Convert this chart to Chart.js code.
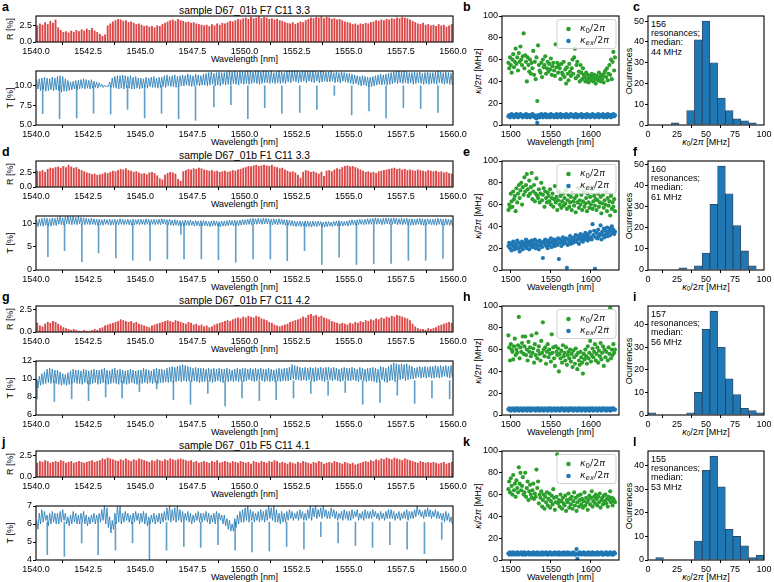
<!DOCTYPE html>
<html>
<head>
<meta charset="utf-8">
<script src="https://cdn.jsdelivr.net/npm/chart.js@4.4.1/dist/chart.umd.min.js"></script>
<style>
body { margin: 0; background: #fff; width: 774px; height: 582px; overflow: hidden; position: relative; font-family: "Liberation Sans", Arial, sans-serif; }
canvas { position: absolute; }
.t { position: absolute; white-space: nowrap; color: #000; line-height: 1; }
.t sub { font-size: 70%; vertical-align: -0.3em; line-height: 0; }
</style>
</head>
<body>
<script>
// ---- données ----
const nums = s => s.trim().split(/\s+/).map(Number);

const titles = ['sample D67_01b F7 C11 3.3', 'sample D67_01b F1 C11 3.3', 'sample D67_01b F7 C11 4.2', 'sample D67_01b F5 C11 4.1'];
const letters = [['a', 'b', 'c'], ['d', 'e', 'f'], ['g', 'h', 'i'], ['j', 'k', 'l']];

// spectres : longueurs d'onde (nm), pas de la grille
const wlTicks = [1540, 1542.5, 1545, 1547.5, 1550, 1552.5, 1555, 1557.5, 1560];
const rStart = 1540.0625, rStep = 0.125;    // une barre R par frange
const tStart = 1540.03125, tStep = 0.0625;  // échantillons T (max / min de frange)

// R [%] en dixièmes de %
const rA = nums(`25 28 26 30 27 32 29 34  22 18 15 16 14 17 15 18  16 19 17 20 18 21 17 15  12 9 11 25 28 31 33 35
 34 32 33 30 31 29 27 28  26 24 25 23 24 22 25 24  27 29 31 33 34 32 35 33  32 30 31 29 30 28 27 26
 25 26 24 27 25 28 26 29  28 30 32 31 33 35 34 36  37 35 38 36 37 39 36 38  37 35 36 34 35 33 32 30
 29 28 30 27 29 31 30 33  35 37 36 38 37 39 36 38  37 35 36 34 35 33 31 30  29 27 28 26 28 27 29 28
 30 31 33 32 34 33 35 34  36 35 37 36 38 37 36 34  32 30 28 27 29 26 27 25  26 24 27 25 26 23 25 27`);
const rD = nums(`27 26 28 25 30 32 31 33  34 32 35 33 37 34 32 33  30 28 26 24 23 21 22 20  21 22 24 23 25 27 26 28
 30 29 31 28 27 25 26 24  22 23 21 24 25 23 19 14  12 20 23 25 24 22 13 10  26 28 30 29 31 30 32 31
 29 28 27 28 26 27 25 26  27 25 26 28 27 29 30 32  33 35 34 36 37 35 36 37  36 35 37 34 33 31 32 29
 27 25 26 24 20 15 25 28  27 25 26 24 22 25 18 27  28 26 29 31 30 33 35 36  34 35 33 31 29 27 25 26
 24 25 23 26 27 28 29 30  31 32 30 31 29 30 28 29  28 27 29 28 27 26 28 27  26 27 25 26 24 25 23 22`);
const rG = nums(`10 7 6 9 11 10 12 11  9 7 5 4 3 2 3 2  1 1 2 1 1 2 3 2  4 5 7 8 9 10 11 12
 14 13 12 11 12 10 11 9  8 7 6 5 7 8 9 10  11 12 13 12 11 13 12 11  10 9 11 10 8 9 7 8
 6 7 5 6 8 9 10 11  12 13 12 14 15 16 15 17  16 18 17 16 18 17 15 14  13 11 10 8 7 6 7 8
 9 11 12 13 14 15 17 16  19 20 18 19 17 18 16 15  14 12 11 10 9 10 9 8  10 9 11 10 12 11 13 12
 14 13 15 14 16 15 17 16  18 17 19 18 17 16 15 13  9 6 4 3 3 2 4 3  4 5 7 8 9 10 11 10`);
const rJ = nums(`16 18 17 19 18 16 17 18  17 19 18 16 17 18 16 17  18 17 16 17 18 19 17 18  19 21 20 22 21 20 19 18
 20 19 21 19 18 20 19 21  20 19 18 17 19 18 20 19  18 20 19 21 20 19 20 21  20 19 18 19 17 18 16 17
 18 17 16 18 17 19 16 17  18 17 16 18 17 16 18 17  16 17 15 18 17 16 18 17  16 18 17 19 18 16 17 16
 15 17 16 15 17 16 18 17  16 15 17 16 18 17 15 16  17 16 18 17 16 15 17 16  15 16 14 15 16 17 18 17
 19 18 20 19 21 20 22 21  20 22 21 20 19 21 20 19  18 17 16 18 17 16 17 16  17 16 15 16 17 15 16 17`);
const rMax = [4.0, 4.4, 2.95, 3.0];

// T [%] en dixièmes de %, 16 valeurs par nm
const tA = nums(`
108 96 109 94 110 95 111 93 110 94 109 95 111 94 110 95
112 94 113 92 112 93 109 93 107 94 105 95 106 96 107 95
107 96 108 97 109 96 108 97 107 96 108 97 106 98 105 97
104 99 102 98 101 99 100 99 105 98 110 98 112 97 113 96
113 97 114 96 113 98 112 97 113 96 111 96 112 97 110 96
110 97 109 98 111 97 110 99 111 98 112 98 110 97 111 98
111 99 113 98 114 100 112 99 113 99 114 98 112 99 113 100
114 100 113 101 115 100 114 99 113 100 115 101 114 100 113 101
115 101 116 100 117 101 118 102 116 100 117 101 118 100 117 102
117 101 118 102 119 101 118 103 119 102 118 101 119 103 118 102
119 103 119 102 119 103 118 104 119 103 119 102 118 103 119 104
119 104 118 103 119 104 117 103 118 104 119 103 118 104 117 103
119 105 119 104 119 106 119 105 119 104 118 105 119 106 119 104
119 106 119 105 119 104 119 106 118 104 119 105 119 106 118 105
118 105 119 106 117 104 118 105 117 104 118 106 117 105 116 104
116 103 115 102 114 103 113 101 112 100 113 101 112 100 111 99
111 99 112 100 113 101 114 102 115 101 114 102 115 101 116 102
117 103 118 104 119 103 119 104 118 103 119 104 118 103 117 104
117 102 118 103 117 104 118 103 116 102 117 103 118 102 117 103
117 103 118 102 119 104 118 103 117 102 118 103 117 102 116 101`);
const tD = nums(`
108 94 110 96 112 95 113 97 112 96 111 95 113 97 112 96
114 99 116 98 113 97 115 100 117 99 115 98 116 99 114 98
116 100 114 99 113 98 112 99 111 98 112 99 111 98 110 97
110 98 109 97 110 99 109 98 110 97 109 98 110 99 109 98
111 99 110 98 109 99 110 98 109 97 110 98 109 99 110 98
110 99 109 98 111 99 110 98 109 99 110 98 109 99 110 98
111 100 110 99 109 98 110 97 108 96 109 97 108 96 107 96
107 95 108 97 107 96 108 97 106 95 107 96 106 95 107 96
107 96 106 95 105 94 106 95 107 96 106 95 105 94 106 95
106 95 107 96 108 97 107 96 108 97 107 96 108 97 109 98
109 98 110 99 111 98 112 100 111 99 112 100 111 99 112 100
112 100 111 99 110 98 111 99 110 98 111 99 110 98 109 97
109 97 108 96 107 95 106 94 105 95 106 94 105 95 106 94
106 94 105 93 106 95 105 94 106 96 105 94 104 93 105 94
105 95 104 94 105 96 106 95 107 96 106 95 105 96 106 95
108 97 109 98 108 97 109 98 110 99 109 98 110 99 111 99
111 99 112 100 113 99 112 100 111 98 112 99 113 100 112 99
112 99 113 100 112 98 111 99 112 98 111 99 112 98 111 97
111 97 110 98 111 99 112 98 111 97 110 98 111 99 110 98
110 98 111 97 112 99 111 98 110 97 111 98 110 97 109 96`);
const tG = nums(`
100 90 103 93 106 94 108 95 111 96 112 95 111 96 110 95
110 94 108 93 106 94 105 93 107 94 109 95 111 96 110 95
110 95 109 94 111 96 110 95 109 94 110 95 111 96 110 94
110 95 111 96 112 95 110 94 109 95 111 96 112 95 110 94
111 96 110 95 109 94 110 95 111 96 110 95 109 94 110 95
110 95 112 96 111 95 110 96 109 95 111 96 112 95 111 96
111 96 110 97 112 96 113 97 114 96 113 97 114 98 115 97
116 98 115 97 114 98 113 97 112 98 113 97 112 96 112 97
112 97 111 98 112 97 111 96 112 97 111 98 112 97 111 96
111 98 112 97 111 98 110 97 111 98 112 97 111 98 112 97
112 98 111 99 112 98 111 97 112 98 111 99 112 98 111 97
111 98 112 97 111 98 110 97 111 98 112 97 111 98 112 98
112 98 113 99 116 100 115 99 114 99 113 98 112 99 113 98
112 99 113 98 112 97 113 98 112 99 113 98 112 97 113 99
113 99 112 98 113 99 112 98 111 97 112 98 113 99 112 98
112 98 113 99 112 98 111 97 113 99 112 98 111 97 112 98
112 98 113 97 112 96 111 97 114 99 113 97 112 96 114 98
116 99 118 97 117 98 116 99 117 100 116 98 117 99 115 100
114 100 112 101 113 102 114 101 113 102 114 101 113 102 114 101
114 101 115 102 114 101 115 102 114 103 115 102 114 101 115 102`);
const tJ = nums(`
62 57 66 60 68 61 67 62 65 59 66 60 67 61 66 60
66 60 67 61 68 62 66 60 64 59 65 60 67 61 66 60
65 60 66 61 67 60 65 59 64 60 65 61 66 60 65 61
66 61 68 62 70 60 69 58 64 55 62 57 66 60 70 61
70 60 66 61 67 62 66 61 65 60 66 61 67 62 66 60
66 61 67 60 66 59 64 60 65 61 66 60 65 61 66 60
66 61 67 62 69 62 70 61 68 62 69 61 70 62 68 61
67 61 66 62 67 61 66 60 65 61 66 62 67 61 66 61
66 62 67 61 66 60 65 61 66 60 67 61 66 62 65 60
65 59 63 57 62 56 60 56 63 58 65 60 67 61 68 61
69 62 70 61 68 62 67 61 66 62 67 61 68 62 67 61
68 62 70 63 69 62 70 61 68 61 66 60 67 61 66 61
67 62 68 63 67 62 66 63 67 62 68 63 67 62 66 62
68 63 70 62 69 64 70 63 68 64 69 63 70 64 68 63
67 63 69 64 68 63 67 62 66 63 67 62 68 63 67 62
67 62 68 63 67 64 68 62 66 63 67 62 68 63 67 63
67 63 68 64 67 63 66 62 67 63 66 62 67 63 68 63
68 63 67 62 66 63 67 62 66 63 67 63 68 62 67 63
67 63 68 64 70 65 68 64 67 63 68 64 69 64 68 63
67 64 68 63 67 63 66 62 66 61 67 62 66 61 64 60`);
const tRange = [[5, 11.9], [0, 11.7], [6, 12], [4, 7]];
const tTicks = [[5, 7.5, 10], [0, 5, 10], [6, 8, 10, 12], [4, 5, 6, 7]];
const tDec = [1, 0, 0, 0];

// creux de résonance : position (nm), fond (%)
const dipPosA = nums(`1540.32 1541.13 1541.95 1542.76 1543.58 1544.39 1545.21 1546.02 1546.84 1547.65 1548.53 1549.35
 1550.16 1550.97 1551.79 1552.65 1553.47 1554.31 1555.14 1555.97 1556.79 1557.62 1558.45 1559.28`);
const dipA = nums(`6.45 5.8 5.9 6.5 6.4 7.0 5.9 6.5 5.8 5.6 7.3 7.6 5.8 7.2 6.5 6.6 7.0 8.8 6.3 6.8 5.9 7.2 7.1 6.6`);
const dipPosD = nums(`1540.57 1541.37 1542.20 1543.00 1543.83 1544.64 1545.47 1546.30 1546.95 1547.10 1547.93 1548.75 1549.58
 1550.41 1551.24 1552.05 1552.88 1553.71 1554.54 1555.37 1556.20 1557.03 1557.86 1558.69 1559.52`);
const dipD = nums(`2.9 4.2 1.8 3.7 2.6 2.1 2.1 2.4 7.7 2.4 2.4 2.2 1.7 2.4 2.4 2.0 4.2 1.2 2.8 1.2 1.4 1.4 2.1 2.1 2.5`);
const dipPosG = nums(`1540.05 1540.88 1541.71 1542.52 1543.34 1544.13 1544.96 1545.79 1546.59 1547.41 1548.24 1549.07 1549.88
 1550.71 1551.52 1552.35 1553.18 1554.01 1554.83 1555.67 1556.50 1557.33 1558.16 1558.99 1559.84`);
const dipG = nums(`7.8 7.5 7.8 7.6 8.0 7.9 8.6 8.9 7.7 7.2 8.4 7.0 7.9 7.6 7.7 7.9 8.4 8.2 8.5 7.2 7.4 8.2 7.3 7.9 7.8`);
const dipPosJ = nums(`1540.54 1541.36 1542.19 1542.98 1543.81 1544.63 1545.44 1546.26 1547.09 1547.90 1548.73 1549.55
 1550.36 1551.19 1552.02 1552.85 1553.66 1554.49 1555.32 1556.14 1556.97 1557.80 1558.63 1559.46`);
const dipJ = nums(`4.3 4.2 4.95 4.3 4.55 4.95 4.0 4.55 4.75 4.7 4.85 4.55 4.45 4.5 4.75 4.6 5.3 4.95 4.8 4.7 4.85 4.6 4.35 5.15`);
const dipBase = [10.0, 10.0, 9.8, 6.1];

// largeurs de raie kappa/2pi (MHz), une résonance par nm à partir de 1497 nm
const kStart = 1497, kStep = 1;
const k0B = nums(`57 52 62 55 48 60 65 53 58 70  56 62 50 66 58 72 60 55 63 84  52 64 58 40 62 55 49 60 47 57
 52 68 46 58 42 62 22 73 55 50  48 57 44 60 53 55 63 47 52 58  49 56 51 61 46 54 57 50 45 74
 53 57 48 55 52 42 56 48 46 58  44 51 38 53 47 41 56 49 45 52  60 47 62 70 43 55 58 45 49 40
 55 48 42 52 46 44 40 48 42 46  39 43 45 41 47 44 40 46 42 38  45 43 41 48 44 40 46 42 45 39
 48 50 44 52 41 47 55 46 60 42  58 67 50 62`);
const kexB = nums(`8 9 7 8 10 8 9 7 8 9  10 8 7 9 8 10 9 8 7 8  9 8 10 7 8 9 8 7 9 8  10 8 9 7 8 6 2 9 8 7
 9 10 8 7 9 8 10 8 7 9  8 9 7 10 8 9 8 7 9 8  10 7 9 8 8 10 7 9 8 9  8 7 10 9 8 7 9 8 10 8
 9 8 7 9 10 8 7 9 8 9  8 10 7 8 9 8 9 7 10 8  9 8 7 9 8 10 8 9 7 8  9 8 10 7 9 8 9 8 10 7
 8 9 8 7 10 9 8 9 7 8  9 10 8 9`);
const k0E = nums(`55 60 57 70 63 58 72 65 68 54  75 62 70 78 66 73 80 60 76 69  85 72 78 88 74 68 82 70 76 89
 65 72 78 63 70 84 68 66 74 62  70 80 64 69 75 58 72 66 62 71  68 63 74 60 66 70 58 65 77 62
 67 55 64 72 60 68 57 63 70 59  66 61 73 56 64 69 58 62 67 55  71 63 59 66 53 68 62 75 57 64
 60 69 55 63 72 58 61 66 54 70  62 57 67 60 74 56 63 68 59 65  55 64 70 58 62 67 52 61 69 57
 64 60 72 54 66 59 63 50 68 56  62 58 65 54`);
const kexE = nums(`22 25 20 24 18 23 26 21 19 24  22 27 20 25 17 23 21 26 19 24  22 25 28 20 23 26 19 24 22 27
 21 25 23 28 20 24 26 22 19 27  23 25 21 11 26 24 28 22 25 20  27 23 25 29 21 26 24 28 22 25
 27 23 29 10 25 28 22 26 30 24  27 25 29 2 23 28 26 31 24 27  29 25 30 27 32 26 28 31 24 29
 33 27 30 26 32 29 34 28 31 27  33 29 35 30 28 42 32 36 1 30  34 29 37 31 33 41 28 35 32 38
 30 36 33 39 31 35 38 32 36 40  34 37 33 35`);
const k0H = nums(`73 62 50 65 60 58 51 63 70 55  60 57 64 90 52 62 58 66 72 56  63 72 55 60 50 67 58 62 54 73
 57 61 48 65 55 75 52 59 63 56  50 68 57 85 60 54 62 47 58 65  53 60 56 49 74 57 62 52 45 63
 58 55 61 40 56 52 59 48 64 54  57 50 62 46 55 58 52 60 49 56  44 59 53 47 61 55 42 57 50 46
 58 53 48 38 56 51 60 54 47 63  52 57 68 49 55 61 53 58 65 50  56 62 48 59 54 66 51 57 63 45
 60 53 58 80 50 62 56 98 52 60  55 65 57 60`);
const kexH = nums(`5 6 5 4 5 6 5 5 4 6  5 5 6 4 5 5 6 5 4 5  6 5 5 4 6 5 5 6 4 5  5 6 5 5 4 6 5 5 6 4
 5 5 6 5 4 5 6 5 5 4  6 5 5 6 4 5 5 6 5 4  5 6 5 5 4 6 5 5 6 5  4 5 6 5 5 4 6 5 5 6
 5 4 5 6 5 5 4 6 5 5  6 4 5 5 6 5 4 5 6 5  5 4 6 5 5 6 4 5 5 6  5 4 5 6 5 5 4 6 5 5
 6 5 4 5 6 5 5 4 6 5  5 6 5 5`);
const k0K = nums(`65 72 62 75 68 60 78 64 70 58  73 66 62 85 70 80 64 68 76 60  62 80 58 66 72 55 63 69 60 57
 64 70 56 61 58 83 66 72 52 60  57 63 49 55 60 47 58 53 62 50  56 61 48 54 59 51 65 57 46 53
 58 97 52 55 49 60 54 47 57 52  50 59 45 55 53 61 48 56 51 58  47 54 62 50 57 45 53 59 49 55
 60 51 56 48 54 62 50 57 53 46  55 59 51 57 63 49 54 58 52 60  56 50 58 53 61 48 55 57 51 59
 54 60 52 56 49 58 55 63 53 57  50 56 54 53`);
const kexK = nums(`6 5 7 6 5 6 7 5 6 6  5 7 6 5 6 6 7 5 6 5  7 6 5 6 6 7 5 6 6 5  6 7 5 6 6 5 7 6 5 6
 6 5 7 6 5 6 6 7 5 6  5 6 7 6 5 6 6 5 7 6  6 5 6 7 5 6 6 5 6 7  5 6 6 5 7 6 5 6 6 5
 6 7 5 6 5 10 1 6 5 7  6 5 6 6 7 5 6 6 5 6  7 5 6 6 5 7 6 5 6 6  5 7 6 5 6 6 7 5 6 5
 6 6 7 5 6 5 6 7 6 5  6 5 7 6`);

// histogrammes de kappa0/2pi : 15 classes de 0 à 100 MHz
const binWidth = 100 / 15;
const histC = [0, 0, 0, 1, 0, 7, 41, 50, 30, 13, 7, 3, 2, 1, 0];
const histF = [0, 0, 0, 0, 1, 0, 2, 8, 31, 49, 36, 21, 9, 2, 0];
const histI = [1, 0, 0, 0, 0, 1, 10, 38, 46, 30, 16, 9, 3, 2, 1];
const histL = [0, 1, 0, 0, 0, 0, 8, 38, 44, 31, 13, 10, 6, 1, 2];
const histMax = [52.5, 51.45, 48.3, 46.2];
const histTicks = [[0, 10, 20, 30, 40, 50], [0, 10, 20, 30, 40, 50], [0, 10, 20, 30, 40], [0, 10, 20, 30, 40]];
const nRes = [156, 160, 157, 155];
const medians = [44, 61, 56, 53];

// ---- mise en page ----
const rowTop = [16, 161, 306, 451];
const SPEC_L = 36, SPEC_R = 453, SC_L = 502, SC_R = 619, HI_L = 648, HI_R = 764;
const FONT = { family: '"Liberation Sans", Arial, sans-serif', size: 9 };
const BLUE = '#1f77b4', GREEN = '#2ca02c';

function txt(html, x, y, o = {}) {
  const d = document.createElement('div');
  d.className = 't';
  d.innerHTML = html;
  d.style.left = x + 'px';
  d.style.top = y + 'px';
  d.style.fontSize = (o.size || 9) + 'px';
  if (o.bold) d.style.fontWeight = 'bold';
  const ax = o.left ? '0' : '-50%';
  d.style.transform = `translate(${ax},-50%)` + (o.rot ? ' rotate(-90deg)' : '');
  document.body.appendChild(d);
}

function axis(min, max, ticks, dec, size, isX) {
  return {
    type: 'linear', min, max, offset: false,
    afterBuildTicks: s => { s.ticks = ticks.map(v => ({ value: v })); },
    ticks: {
      font: FONT, color: '#000', padding: 1, maxRotation: 0, autoSkip: false,
      callback: v => Number(v).toFixed(dec)
    },
    grid: { display: true, drawOnChartArea: false, tickLength: 3, tickColor: '#000', tickWidth: 1 },
    border: { display: false },
    afterFit: s => {
      if (isX) s.height = size; else s.width = size;
      s.paddingLeft = s.paddingRight = s.paddingTop = s.paddingBottom = 0;
    }
  };
}

const frame = {
  id: 'frame',
  afterDatasetsDraw(ch) {
    const a = ch.chartArea, c = ch.ctx;
    c.save();
    c.strokeStyle = '#000';
    c.lineWidth = 1.1;
    c.strokeRect(a.left, a.top, a.right - a.left, a.bottom - a.top);
    c.restore();
  }
};

function mathLabel(c, x, y, sub, italicSub) {
  c.font = 'italic 9.5px "DejaVu Sans", sans-serif';
  c.fillText('κ', x, y);
  x += c.measureText('κ').width;
  c.font = (italicSub ? 'italic ' : '') + '7px "DejaVu Sans", sans-serif';
  c.fillText(sub, x, y + 2.5);
  x += c.measureText(sub).width;
  c.font = '9.5px "DejaVu Sans", sans-serif';
  c.fillText('/2', x, y);
  x += c.measureText('/2').width;
  c.font = 'italic 9.5px "DejaVu Sans", sans-serif';
  c.fillText('π', x, y);
}

const kLegend = {
  id: 'kLegend',
  afterDatasetsDraw(ch) {
    const a = ch.chartArea, c = ch.ctx;
    const w = 59, h = 29, bx = a.right - w - 3, by = a.top + 3.5;
    c.save();
    c.beginPath();
    c.roundRect(bx, by, w, h, 2.5);
    c.fillStyle = 'rgba(255,255,255,0.8)';
    c.fill();
    c.strokeStyle = '#d0d0d0';
    c.lineWidth = 1;
    c.stroke();
    c.textBaseline = 'middle';
    [[GREEN, '0', false], [BLUE, 'ex', true]].forEach(([col, sub, it], i) => {
      const cy = by + 9.5 + i * 12;
      c.beginPath();
      c.arc(bx + 11.5, cy, 2.3, 0, Math.PI * 2);
      c.fillStyle = col;
      c.fill();
      c.fillStyle = '#222';
      mathLabel(c, bx + 23, cy, sub, it);
    });
    c.restore();
  }
};

function makeChart(box, yW, xH, type, datasets, xAx, yAx, extra = []) {
  const padT = 6, padR = 16;
  const cv = document.createElement('canvas');
  const w = box.r - box.l + yW + padR, h = box.b - box.t + padT + xH;
  cv.width = w; cv.height = h;
  cv.style.left = (box.l - yW) + 'px';
  cv.style.top = (box.t - padT) + 'px';
  cv.style.width = w + 'px';
  cv.style.height = h + 'px';
  document.body.appendChild(cv);
  return new Chart(cv, {
    type,
    data: { datasets },
    options: {
      responsive: false, animation: false, devicePixelRatio: 1, events: [],
      layout: { padding: { top: padT, right: padR, left: 0, bottom: 0 } },
      plugins: { legend: { display: false }, tooltip: { enabled: false } },
      scales: { x: xAx, y: yAx }
    },
    plugins: [frame, ...extra]
  });
}

const seq = (ys, x0, dx, k = 1) => ys.map((v, i) => ({ x: x0 + i * dx, y: v * k }));

const rData = [rA, rD, rG, rJ];
const tData = [tA, tD, tG, tJ];
const dipPos = [dipPosA, dipPosD, dipPosG, dipPosJ];
const dipVal = [dipA, dipD, dipG, dipJ];
const k0 = [k0B, k0E, k0H, k0K];
const kex = [kexB, kexE, kexH, kexK];
const hists = [histC, histF, histI, histL];

rowTop.forEach((top, r) => {
  const rBox = { l: SPEC_L, r: SPEC_R, t: top, b: top + 26 };
  const tBox = { l: SPEC_L, r: SPEC_R, t: top + 55, b: top + 109 };
  const sBox = { l: SC_L, r: SC_R, t: top, b: top + 109 };
  const hBox = { l: HI_L, r: HI_R, t: top, b: top + 109 };
  const cx = (SPEC_L + SPEC_R) / 2;

  // textes
  txt(letters[r][0], 2, top - 9, { bold: true, size: 12.5, left: true });
  txt(letters[r][1], 463, top - 9, { bold: true, size: 12.5, left: true });
  txt(letters[r][2], 633, top - 9, { bold: true, size: 12.5, left: true });
  txt(titles[r], cx, top - 5.5, { size: 10.3 });
  txt('R [%]', 10, (rBox.t + rBox.b) / 2, { rot: true });
  txt('T [%]', 10, (tBox.t + tBox.b) / 2, { rot: true });
  txt('Wavelength [nm]', cx, rBox.b + 16.5);
  txt('Wavelength [nm]', cx, tBox.b + 16.5);
  txt('Wavelength [nm]', (SC_L + SC_R) / 2, sBox.b + 16.5);
  txt('<i>κ</i><sub><i>i</i></sub>/2<i>π</i> [MHz]', 478, (sBox.t + sBox.b) / 2, { rot: true });
  txt('<i>κ</i><sub>0</sub>/2<i>π</i> [MHz]', (HI_L + HI_R) / 2, hBox.b + 16.5);
  txt('Ocurrences', 629, (hBox.t + hBox.b) / 2, { rot: true });
  [String(nRes[r]), 'resonances;', 'median:', medians[r] + ' MHz'].forEach((s, i) => {
    txt(s, HI_L + 3, top + 8 + i * 9.2, { left: true });
  });

  // R
  makeChart(rBox, 36, 14, 'bar', [{
    data: seq(rData[r], rStart, rStep, 0.1),
    backgroundColor: 'rgba(214,39,40,0.85)', barThickness: 1.2, borderWidth: 0
  }], axis(1540, 1560, wlTicks, 1, 14, true), axis(0, rMax[r], [0, 2.5], 1, 36, false));

  // T
  makeChart(tBox, 36, 14, 'line', [
    { data: seq(tData[r], tStart, tStep, 0.1), borderColor: BLUE, borderWidth: 0.8, pointRadius: 0, tension: 0 },
    { type: 'bar', data: dipPos[r].map((p, i) => ({ x: p, y: [dipVal[r][i], dipBase[r]] })),
      backgroundColor: 'rgba(31,119,180,0.7)', barThickness: 1, borderWidth: 0 }
  ], axis(1540, 1560, wlTicks, 1, 14, true), axis(tRange[r][0], tRange[r][1], tTicks[r], tDec[r], 36, false));

  // kappa vs longueur d'onde
  makeChart(sBox, 26, 14, 'scatter', [
    { data: seq(k0[r], kStart, kStep), backgroundColor: GREEN, pointRadius: 2.1, borderWidth: 0 },
    { data: seq(kex[r], kStart, kStep), backgroundColor: BLUE, pointRadius: 2.1, borderWidth: 0 }
  ], axis(1489, 1635, [1500, 1550, 1600], 0, 14, true), axis(0, 100, [0, 20, 40, 60, 80, 100], 0, 26, false), [kLegend]);

  // histogramme
  makeChart(hBox, 20, 14, 'bar', [{
    data: seq(hists[r], binWidth / 2, binWidth),
    backgroundColor: BLUE, borderColor: 'rgba(15,35,60,0.85)', borderWidth: 0.8,
    barPercentage: 1, categoryPercentage: 1
  }], axis(0, 100, [0, 25, 50, 75, 100], 0, 14, true), axis(0, histMax[r], histTicks[r], 0, 20, false));
});
</script>
</body>
</html>
